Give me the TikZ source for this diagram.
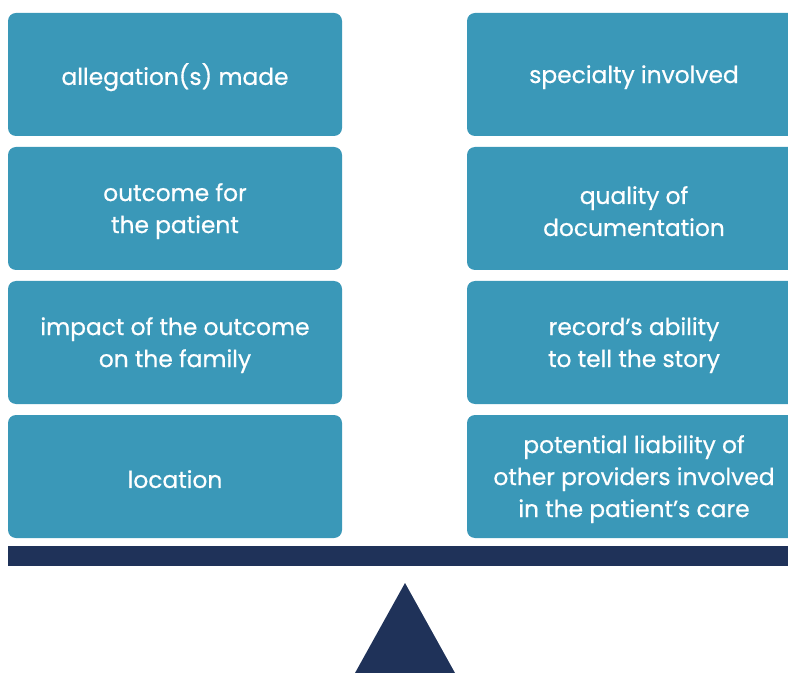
\documentclass[tikz,border=0pt]{standalone}
\usepackage{fontspec}
\setmainfont{Poppins}
\newfontfamily\medfont{Poppins}[FakeBold=0.6]
\definecolor{boxteal}{HTML}{3A98B8}
\definecolor{navy}{HTML}{1F3259}
\begin{document}
\begin{tikzpicture}[x=0.75pt,y=-0.75pt,
  item/.style={fill=boxteal, rounded corners=6pt},
  label/.style={text=white, align=center, yshift=-2pt,
    font=\medfont\fontsize{17.5pt}{24pt}\selectfont, inner sep=0pt}]
\useasboundingbox (0,0) rectangle (788,673);
\clip (0,0) rectangle (788,673);
% left column
\path[item] (8,13) rectangle (342,136) node[label,pos=0.5] (l1) {allegation(s) made};
\path[item] (8,147) rectangle (342,270) node[label,pos=0.5] (l2) {outcome for\\the patient};
\path[item] (8,281) rectangle (342,404) node[label,pos=0.5] (l3) {impact of the outcome\\on the family};
\path[item] (8,415) rectangle (342,538) node[label,pos=0.5] (l4) {location};
% right column
\path[item] (467,13) rectangle (801,136) node[label,pos=0.5] (r1) {specialty involved};
\path[item] (467,147) rectangle (801,270) node[label,pos=0.5] (r2) {quality of\\documentation};
\path[item] (467,281) rectangle (801,404) node[label,pos=0.5] (r3) {record’s ability\\to tell the story};
\path[item] (467,415) rectangle (801,538) node[label,pos=0.5] (r4) {potential liability of\\other providers involved\\in the patient’s care};
% beam and fulcrum
\fill[navy] (8,546) rectangle (800,566);
\fill[navy] (405,583) -- (455,673) -- (355,673) -- cycle;
\end{tikzpicture}
\end{document}
